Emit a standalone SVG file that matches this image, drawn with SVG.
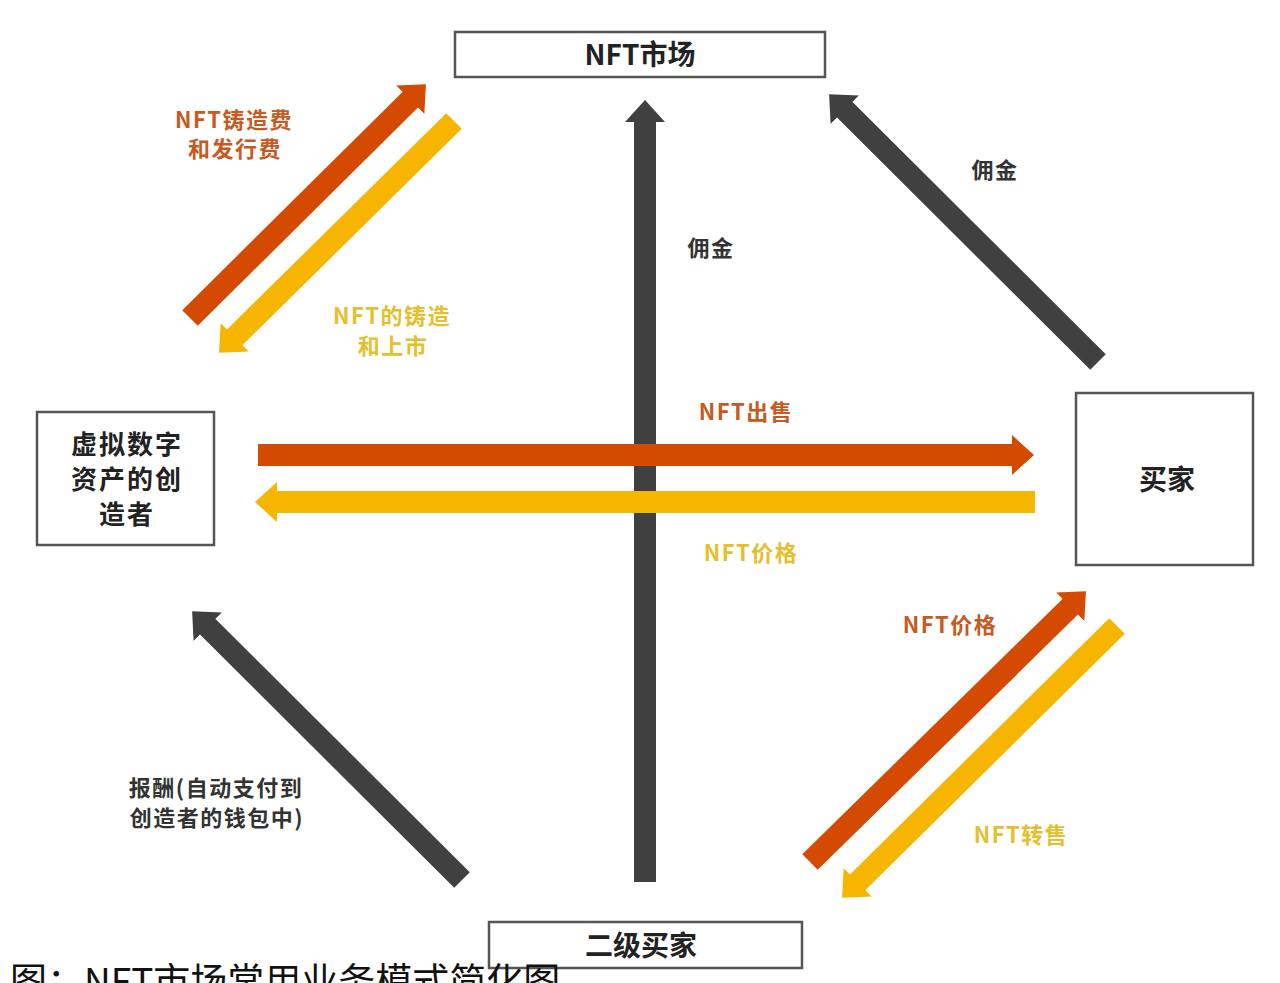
<svg xmlns="http://www.w3.org/2000/svg" width="1280" height="983" viewBox="0 0 1280 983">
<style>
.box{fill:#ffffff;stroke:#555555;stroke-width:2.5}
.t{font-family:"Noto Sans CJK SC","Liberation Sans",sans-serif;font-weight:bold;text-anchor:middle}
.node{font-size:28px;fill:#222222}
.node2{font-size:26px;letter-spacing:2px;fill:#222222}
.lbl{font-size:22px;letter-spacing:1.5px}
.lo{fill:#c65a20}
.ly{fill:#e3c02c}
.ld{fill:#333333}
.sd{stroke:#404040;stroke-width:22;fill:none}
.so{stroke:#d44a00;stroke-width:22;fill:none}
.sy{stroke:#f7b500;stroke-width:22;fill:none}
</style>
<defs>
<marker id="hd" viewBox="0 0 22 40" markerWidth="22" markerHeight="40" refX="1" refY="20" orient="auto" markerUnits="userSpaceOnUse"><path d="M0,0 L22,20 L0,40 z" fill="#404040"/></marker>
<marker id="ho" viewBox="0 0 22 40" markerWidth="22" markerHeight="40" refX="1" refY="20" orient="auto" markerUnits="userSpaceOnUse"><path d="M0,0 L22,20 L0,40 z" fill="#d44a00"/></marker>
<marker id="hy" viewBox="0 0 22 40" markerWidth="22" markerHeight="40" refX="1" refY="20" orient="auto" markerUnits="userSpaceOnUse"><path d="M0,0 L22,20 L0,40 z" fill="#f7b500"/></marker>
</defs>
<rect width="1280" height="983" fill="#ffffff"/>
<g id="connectors">
<line class="sd" x1="645" y1="882" x2="645" y2="121" marker-end="url(#hd)"/>
<line class="so" x1="190" y1="318" x2="411" y2="99" marker-end="url(#ho)"/>
<line class="sy" x1="454" y1="121" x2="234" y2="338" marker-end="url(#hy)"/>
<line class="sd" x1="1098" y1="362" x2="844" y2="109" marker-end="url(#hd)"/>
<line class="so" x1="258" y1="455" x2="1013" y2="455" marker-end="url(#ho)"/>
<line class="sy" x1="1035" y1="502" x2="276" y2="502" marker-end="url(#hy)"/>
<line class="so" x1="810" y1="862" x2="1071" y2="606" marker-end="url(#ho)"/>
<line class="sy" x1="1117" y1="626" x2="857" y2="883" marker-end="url(#hy)"/>
<line class="sd" x1="462" y1="880" x2="207" y2="626" marker-end="url(#hd)"/>
<text class="t lbl lo" x="234" y="128">NFT铸造费</text>
<text class="t lbl lo" x="235" y="157">和发行费</text>
<text class="t lbl ly" x="392" y="324">NFT的铸造</text>
<text class="t lbl ly" x="393" y="354">和上市</text>
<text class="t lbl ld" x="711" y="256">佣金</text>
<text class="t lbl ld" x="995" y="178">佣金</text>
<text class="t lbl lo" x="746" y="420">NFT出售</text>
<text class="t lbl ly" x="751" y="561">NFT价格</text>
<text class="t lbl lo" x="950" y="633">NFT价格</text>
<text class="t lbl ly" x="1021" y="843">NFT转售</text>
<text class="t lbl ld" x="216" y="796">报酬(自动支付到</text>
<text class="t lbl ld" x="217" y="826">创造者的钱包中)</text>
</g>
<g id="n-market">
<rect class="box" x="455" y="32" width="370" height="45"/>
<text class="t node" x="640" y="65">NFT市场</text>
</g>
<g id="n-creator">
<rect class="box" x="37" y="412" width="177" height="133"/>
<text class="t node2" x="127" y="454">虚拟数字</text>
<text class="t node2" x="127" y="489">资产的创</text>
<text class="t node2" x="127" y="524">造者</text>
</g>
<g id="n-buyer">
<rect class="box" x="1076" y="393" width="177" height="172"/>
<text class="t node" x="1167" y="490">买家</text>
</g>
<g id="n-secondary">
<rect class="box" x="489" y="922" width="313" height="46"/>
<text class="t node" x="641" y="956">二级买家</text>
</g>
<text x="10" y="995" style="font-family:'Noto Sans CJK SC','Liberation Sans',sans-serif;font-size:37px;fill:#111111">图：NFT市场常用业务模式简化图</text>
</svg>
